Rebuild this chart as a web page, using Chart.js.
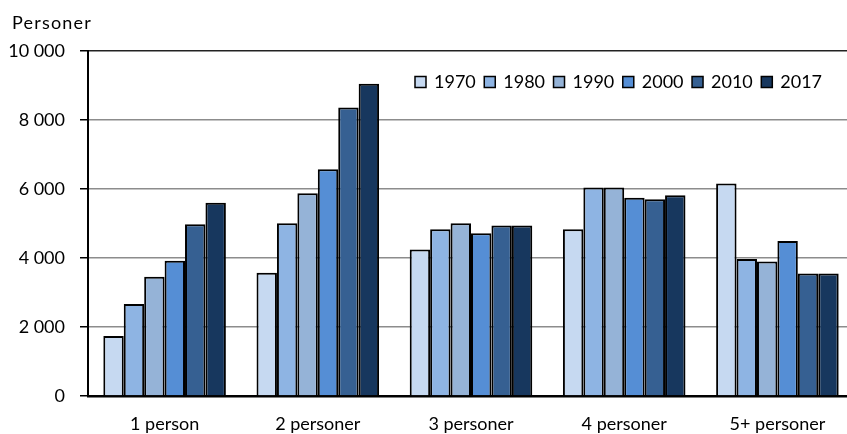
<!DOCTYPE html>
<html>
<head>
<meta charset="utf-8">
<script src="https://cdn.jsdelivr.net/npm/chart.js@4"></script>
<style>
  html, body { margin: 0; padding: 0; background: #fff; overflow: hidden; }
  canvas { display: block; }
</style>
</head>
<body>
<canvas id="chart" width="856" height="434"></canvas>
<script>
const categories = ['1 person', '2 personer', '3 personer', '4 personer', '5+ personer'];
const years = ['1970', '1980', '1990', '2000', '2010', '2017'];
const v1970 = [1740, 3570, 4250, 4830, 6160];
const v1980 = [2670, 5010, 4830, 6040, 3970];
const v1990 = [3460, 5880, 5010, 6040, 3900];
const v2000 = [3920, 6570, 4720, 5750, 4490];
const v2010 = [4980, 8360, 4940, 5700, 3550];
const v2017 = [5600, 9050, 4940, 5820, 3550];
const yTicks = [0, 2000, 4000, 6000, 8000, 10000];

const colors = ['#C6D9F1', '#8EB4E3', '#95B3D7', '#558ED5', '#366092', '#17375E'];
const series = [v1970, v1980, v1990, v2000, v2010, v2017];
const FONT = 'Lato, "DejaVu Sans", sans-serif';

// Title "Personer" and legend row drawn on top
const extras = {
    id: 'extras',
    afterDraw(chart) {
        const ctx = chart.ctx;
        ctx.save();
        ctx.fillStyle = '#000';
        ctx.font = '18px ' + FONT;
        ctx.textBaseline = 'middle';
        ctx.textAlign = 'left';
        ctx.letterSpacing = '1.2px';
        ctx.fillText('Personer', 12, 23);
        ctx.letterSpacing = '0px';

        let x = 415;
        const box = 11;
        const cy = 82;
        chart.data.datasets.forEach(ds => {
            ctx.fillStyle = ds.backgroundColor;
            ctx.fillRect(x, cy - box / 2, box, box);
            ctx.strokeStyle = '#000';
            ctx.lineWidth = 1.5;
            ctx.strokeRect(x, cy - box / 2, box, box);
            ctx.fillStyle = '#000';
            ctx.fillText(ds.label, x + box + 8, cy);
            x += box + 8 + ctx.measureText(ds.label).width + 8.5;
        });
        ctx.restore();
    }
};

new Chart(document.getElementById('chart'), {
    type: 'bar',
    data: {
        labels: categories,
        datasets: years.map((y, i) => ({
            label: y,
            data: series[i],
            backgroundColor: colors[i],
            borderColor: '#000',
            borderWidth: 2,
            categoryPercentage: 0.8,
            barPercentage: 1.0
        }))
    },
    options: {
        responsive: false,
        animation: false,
        devicePixelRatio: 1,
        layout: { padding: { top: 51, right: 2, left: 0, bottom: 0 } },
        plugins: {
            legend: { display: false },
            tooltip: { enabled: false }
        },
        scales: {
            x: {
                afterFit(scale) { scale.height = 38; },
                grid: { display: false, drawTicks: false },
                border: { display: true, color: '#000', width: 2.5 },
                ticks: { color: '#000', font: { family: FONT, size: 18 }, padding: 17, maxRotation: 0 }
            },
            y: {
                min: 0,
                max: 10000,
                afterFit(scale) { scale.width = 88; },
                afterBuildTicks(scale) { scale.ticks = yTicks.map(v => ({ value: v })); },
                grid: {
                    color: ctx => (ctx.tick && ctx.tick.value === 10000) ? '#222' : '#8c8c8c',
                    lineWidth: 1.5,
                    tickLength: 8,
                    tickColor: '#000',
                    tickWidth: 1.5
                },
                border: { display: true, color: '#000', width: 2 },
                ticks: {
                    color: '#000',
                    font: { family: FONT, size: 18 },
                    padding: 15,
                    callback: v => String(v).replace(/\B(?=(\d{3})+(?!\d))/g, ' ')
                }
            }
        }
    },
    plugins: [extras]
});
</script>
</body>
</html>
